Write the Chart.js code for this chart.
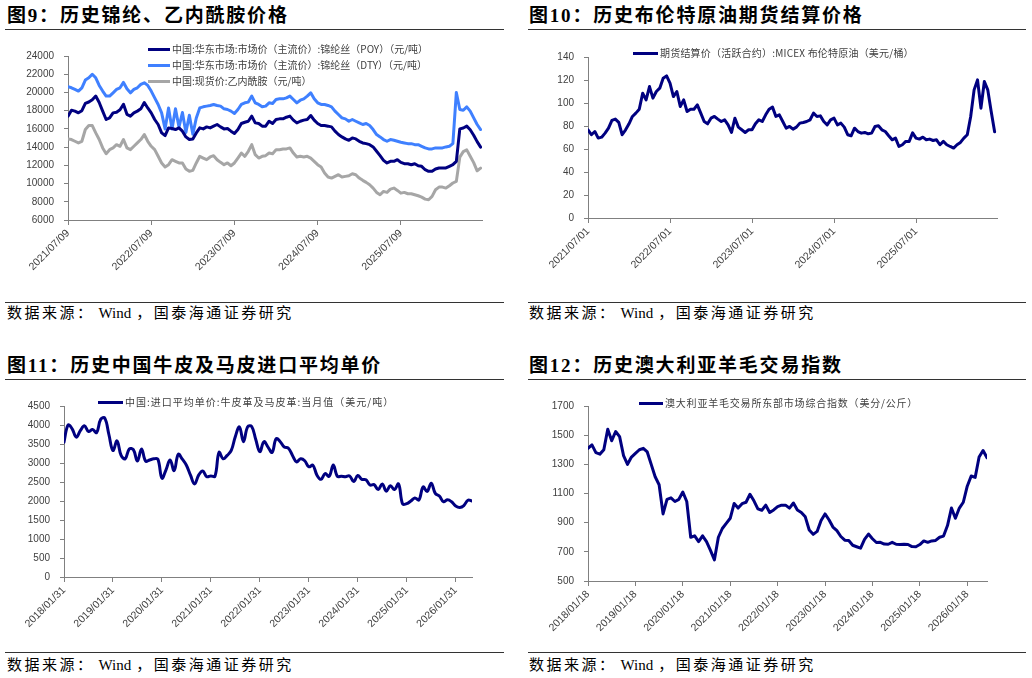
<!DOCTYPE html>
<html lang="zh-CN">
<head>
<meta charset="utf-8">
<script src="https://cdn.jsdelivr.net/npm/chart.js@4.4.1/dist/chart.umd.min.js"></script>
<style>
  body { margin: 0; width: 1032px; height: 678px; background: #fff; position: relative; overflow: hidden; }
  .title { position: absolute; font: bold 19px "Liberation Serif", "Noto Sans CJK SC", serif; letter-spacing: 1.8px; color: #000; line-height: 20px; white-space: nowrap; }
  .rule { position: absolute; height: 0; border-top: 1px solid #333; }
  .source { position: absolute; font: 15px "Liberation Serif", "Noto Sans CJK SC", serif; letter-spacing: 2.5px; color: #000; line-height: 16px; white-space: nowrap; }
  .source b { font-weight: normal; letter-spacing: 0; margin: 0 5px 0 4px; }
  .swatch { position: absolute; height: 3px; }
  .legend { position: absolute; font: 10px "Noto Sans CJK SC", sans-serif; color: #404040; line-height: 12px; white-space: nowrap; }
  canvas { position: absolute; }
</style>
</head>
<body>

<div class="title" style="left:7px;top:6px">图9：历史锦纶、乙内酰胺价格</div>
<div class="rule" style="left:5px;top:29px;width:499px"></div>
<div class="title" style="left:529px;top:6px">图10：历史布伦特原油期货结算价格</div>
<div class="rule" style="left:528px;top:29px;width:498px"></div>
<div class="title" style="left:7px;top:356px">图11：历史中国牛皮及马皮进口平均单价</div>
<div class="rule" style="left:5px;top:379px;width:499px"></div>
<div class="title" style="left:529px;top:356px">图12：历史澳大利亚羊毛交易指数</div>
<div class="rule" style="left:528px;top:379px;width:498px"></div>

<canvas id="nylon-chart" width="500" height="260" style="left:0;top:40px"></canvas>
<canvas id="brent-chart" width="500" height="260" style="left:520px;top:40px"></canvas>
<canvas id="hide-chart" width="500" height="260" style="left:0;top:390px"></canvas>
<canvas id="wool-chart" width="500" height="260" style="left:520px;top:390px"></canvas>

<div class="swatch" style="left:148px;top:48px;width:22px;background:#000080"></div>
<div class="legend" style="left:172px;top:43px">中国:华东市场:市场价（主流价）:锦纶丝（POY）（元/吨）</div>
<div class="swatch" style="left:148px;top:64px;width:22px;background:#3f80ff"></div>
<div class="legend" style="left:172px;top:59px">中国:华东市场:市场价（主流价）:锦纶丝（DTY）（元/吨）</div>
<div class="swatch" style="left:148px;top:80px;width:22px;background:#a6a6a6"></div>
<div class="legend" style="left:172px;top:75px">中国:现货价:乙内酰胺（元/吨）</div>

<div class="swatch" style="left:633px;top:52px;width:25px;background:#000080"></div>
<div class="legend" style="left:660px;top:47px;letter-spacing:0.2px">期货结算价（活跃合约）:MICEX 布伦特原油（美元/桶）</div>

<div class="swatch" style="left:98px;top:401px;width:25px;background:#000080"></div>
<div class="legend" style="left:125px;top:396px;letter-spacing:1px">中国:进口平均单价:牛皮革及马皮革:当月值（美元/吨）</div>

<div class="swatch" style="left:639px;top:402px;width:24px;background:#000080"></div>
<div class="legend" style="left:665px;top:397px;letter-spacing:0.8px">澳大利亚羊毛交易所东部市场综合指数（美分/公斤）</div>

<div class="rule" style="left:5px;top:302px;width:499px"></div>
<div class="source" style="left:7px;top:305px">数据来源：<b>Wind</b>，国泰海通证券研究</div>
<div class="rule" style="left:528px;top:302px;width:498px"></div>
<div class="source" style="left:529px;top:305px">数据来源：<b>Wind</b>，国泰海通证券研究</div>
<div class="rule" style="left:5px;top:652px;width:499px"></div>
<div class="source" style="left:7px;top:657px">数据来源：<b>Wind</b>，国泰海通证券研究</div>
<div class="rule" style="left:528px;top:652px;width:498px"></div>
<div class="source" style="left:529px;top:657px">数据来源：<b>Wind</b>，国泰海通证券研究</div>

<script>
// half-month points from 2021/07/09
const poyPrice = [
  17400, 18050, 17950, 17760, 18000, 18800, 18950, 19200, 19600, 18900,
  17950, 17030, 17200, 17760, 17830, 18100, 18700, 17600, 17400, 17760,
  17950, 18200, 18900, 18300, 17760, 17030, 16480, 15560, 15270, 16110,
  16040, 15930, 16110, 15750, 15120, 14830, 14900, 15560, 16110, 16000,
  16220, 16110, 16300, 16480, 16220, 16000, 16040, 15750, 15490, 15930,
  16590, 16730, 16840, 17400, 16660, 16590, 16300, 16300, 16840, 16590,
  17030, 17100, 17100, 17280, 17400, 16960, 16660, 16840, 16960, 17030,
  17470, 16960, 16590, 16370, 16370, 16300, 16220, 15750, 15380, 15120,
  14900, 14750, 15010, 14900, 14640, 14460, 14380, 14270, 14020, 13540,
  13060, 12550, 12260, 12440, 12440, 12620, 12330, 12180, 12180, 12070,
  12180, 11960, 11890, 11520, 11340, 11340, 11600, 11710, 11710, 11710,
  11890, 12070, 12440, 16000, 16100, 16300, 15900, 15300, 14600, 14000
];
const dtyPrice = [
  20620, 20510, 20330, 20150, 20510, 21360, 21610, 22000, 21610, 20770,
  20150, 19600, 19600, 19960, 20330, 20510, 21100, 20400, 19960, 20330,
  20510, 20880, 21060, 20770, 20150, 19410, 18680, 17760, 16000, 18300,
  16000, 18200, 16200, 17800, 15600, 17500, 15400, 17200, 18300, 18420,
  18500, 18570, 18680, 18570, 18500, 18200, 18130, 17950, 17690, 18130,
  18680, 18860, 18940, 19600, 18860, 18680, 18420, 18500, 18860, 18790,
  19230, 19300, 19300, 19410, 19600, 19230, 18860, 19150, 19300, 19600,
  19960, 19300, 18860, 18680, 18680, 18570, 18420, 17950, 17580, 17210,
  17100, 16840, 17030, 16840, 16660, 16480, 16590, 16370, 15930, 15380,
  15120, 14830, 14640, 14830, 14750, 14640, 14530, 14460, 14380, 14380,
  14270, 14270, 14090, 13910, 13800, 13800, 13910, 13910, 13910, 14020,
  14090, 14380, 20000, 18130, 18050, 18420, 17950, 17210, 16480, 15930
];
const caprolactamPrice = [
  14900, 14830, 14640, 14460, 14640, 15930, 16370, 16370, 15560, 14830,
  13910, 13280, 13720, 13910, 14270, 14090, 14830, 13910, 13720, 14090,
  14460, 14830, 15380, 14640, 14090, 13720, 12990, 12260, 11820, 12070,
  12620, 12440, 12260, 12260, 11600, 11340, 11450, 12260, 12990, 12800,
  12620, 12920, 13060, 12620, 12330, 12070, 12260, 11960, 12260, 12800,
  13350, 12990, 13540, 14270, 13170, 12800, 12990, 13060, 13350, 13280,
  13720, 13720, 13800, 13800, 13910, 13350, 12920, 12990, 12920, 12990,
  12800, 12440, 12070, 11820, 11160, 10720, 10600, 10790, 10970, 10720,
  10790, 10860, 11080, 10970, 10600, 10350, 10130, 9870, 9500, 9030,
  8770, 9140, 9030, 9390, 9500, 9250, 8950, 9030, 8880, 8880,
  8770, 8660, 8510, 8290, 8220, 8590, 9320, 9610, 9610, 9500,
  9760, 10060, 10240, 12900, 13500, 13700, 13000, 12300, 11400, 11700
];
const nylonXLabels = ['2021/07/09', '2022/07/09', '2023/07/09', '2024/07/09', '2025/07/09'];
const nylonYTicks = [6000, 8000, 10000, 12000, 14000, 16000, 18000, 20000, 22000, 24000];

// half-month points from 2021/07/01
const brentPrice = [
  76.7, 72.4, 75.2, 69.5, 70.3, 73.8, 78.1, 84.8, 86.0, 83.1,
  72.4, 76.7, 81.9, 88.3, 91.2, 94.6, 108.5, 102.7, 114.3, 104.2,
  110.0, 112.9, 121.5, 123.6, 117.2, 105.6, 110.0, 97.0, 102.7, 92.6,
  94.6, 94.6, 98.4, 91.2, 83.9, 81.9, 86.8, 88.3, 86.0, 83.9,
  85.4, 81.0, 74.4, 86.8, 79.0, 76.7, 74.4, 76.7, 76.7, 81.9,
  85.4, 83.9, 89.7, 94.6, 96.4, 88.3, 89.7, 83.9, 78.1, 79.6,
  77.3, 79.0, 82.5, 83.1, 83.9, 85.4, 91.2, 88.3, 88.8, 83.9,
  81.0, 85.4, 86.8, 81.0, 82.5, 79.0, 72.4, 71.5, 78.1, 75.2,
  73.8, 74.4, 73.2, 73.8, 79.6, 80.2, 76.7, 75.2, 71.5, 68.0,
  69.5, 62.2, 63.7, 66.6, 66.6, 74.0, 69.5, 68.6, 70.3, 68.0,
  68.6, 67.4, 68.0, 63.7, 66.6, 63.7, 62.2, 60.8, 63.7, 65.7,
  69.5, 72.4, 88.3, 111.4, 120.1, 95.5, 118.7, 111.4, 92.6, 75.0
];
const brentXLabels = ['2021/07/01', '2022/07/01', '2023/07/01', '2024/07/01', '2025/07/01'];
const brentYTicks = [0, 20, 40, 60, 80, 100, 120, 140];

// monthly from 2018/01
const hidePrice = [
  3550, 4000, 3900, 3680, 3850, 3980, 3830, 3880, 3800, 4150,
  4180, 3750, 3330, 3580, 3200, 3110, 3370, 3350, 3050, 3370,
  3050, 3080, 3110, 3100, 2600, 2820, 3080, 2800, 3230, 3100,
  2940, 2680, 2450, 2680, 2790, 2640, 2660, 2650, 3280, 3110,
  3200, 3330, 3700, 3950, 3560, 3950, 3960, 3620, 3300, 3560,
  3420, 3280, 3640, 3560, 3420, 3390, 3200, 3030, 3110, 3060,
  2900, 2940, 2680, 2570, 2720, 2650, 2950, 2650, 2650, 2640,
  2660, 2510, 2670, 2570, 2560, 2420, 2430, 2300, 2450, 2260,
  2400, 2300, 2450, 1920, 1930, 2000, 2080, 2030, 2370, 2250,
  2470, 2200, 2130, 1980, 2030, 1980, 1870, 1830, 1880, 2020,
  2000
];
const hideXLabels = ['2018/01/31', '2019/01/31', '2020/01/31', '2021/01/31', '2022/01/31',
  '2023/01/31', '2024/01/31', '2025/01/31', '2026/01/31'];
const hideYTicks = [0, 500, 1000, 1500, 2000, 2500, 3000, 3500, 4000, 4500];

// monthly from 2018/01
const woolIndex = [
  1410, 1433, 1380, 1370, 1400, 1540, 1462, 1525, 1490, 1360,
  1300, 1350, 1375, 1400, 1410, 1385, 1300, 1215, 1160, 960,
  1060, 1070, 1045, 1060, 1110, 1045, 800, 810, 770, 810,
  770, 710, 645, 800, 860, 895, 930, 1032, 1000, 1030,
  1040, 1095, 1050, 995, 985, 1020, 970, 987, 1010, 1020,
  1020, 1000, 1035, 987, 970, 940, 850, 820, 840, 915,
  960, 920, 870, 845, 805, 780, 778, 745, 735, 725,
  785, 822, 790, 764, 765, 753, 752, 765, 752, 750,
  752, 750, 736, 735, 750, 775, 765, 775, 778, 800,
  808, 880, 1000, 930, 1000, 1040, 1150, 1220, 1210, 1350,
  1395, 1345
];
const woolXLabels = ['2018/01/18', '2019/01/18', '2020/01/18', '2021/01/18', '2022/01/18',
  '2023/01/18', '2024/01/18', '2025/01/18', '2026/01/18'];
const woolYTicks = [500, 700, 900, 1100, 1300, 1500, 1700];

const axisColor = '#808080';
const yFont = { family: 'Liberation Sans', size: 10 };
const xFont = { family: 'Liberation Sans', size: 10.5 };

function makeChart(id, series, opt) {
  return new Chart(document.getElementById(id), {
    type: 'line',
    data: {
      datasets: series.map(s => ({
        data: s.values.map((v, i) => ({ x: i * opt.step, y: v })),
        borderColor: s.color,
        borderWidth: 3,
        pointRadius: 0,
        tension: opt.tension || 0,
        borderJoinStyle: 'round',
        borderCapStyle: 'round'
      }))
    },
    options: {
      responsive: false,
      animation: false,
      devicePixelRatio: 1,
      layout: { padding: opt.pad },
      plugins: { legend: { display: false }, tooltip: { enabled: false } },
      scales: {
        x: {
          type: 'linear',
          min: 0,
          max: opt.xMax,
          afterBuildTicks: s => { s.ticks = opt.xLabels.map((l, i) => ({ value: i * 12 })); },
          afterFit: s => { s.height = opt.xHeight; },
          ticks: {
            autoSkip: false, maxRotation: 45, minRotation: 45, padding: 2,
            color: '#404040', font: xFont,
            callback: v => opt.xLabels[Math.round(v / 12)]
          },
          grid: { drawOnChartArea: false, drawTicks: true, tickLength: 5, color: axisColor },
          border: { color: axisColor }
        },
        y: {
          min: opt.yTicks[0],
          max: opt.yTicks[opt.yTicks.length - 1],
          afterBuildTicks: s => { s.ticks = opt.yTicks.map(v => ({ value: v })); },
          afterFit: s => { s.width = opt.yWidth; },
          ticks: { padding: 10, color: '#404040', font: yFont, callback: v => String(v) },
          grid: { drawOnChartArea: false, drawTicks: true, tickLength: 4, color: axisColor },
          border: { color: axisColor }
        }
      }
    }
  });
}

makeChart('nylon-chart', [
  { values: poyPrice, color: '#000080' },
  { values: dtyPrice, color: '#3f80ff' },
  { values: caprolactamPrice, color: '#a6a6a6' }
], {
  step: 0.5, xMax: 59.7, xLabels: nylonXLabels, yTicks: nylonYTicks,
  yWidth: 68, xHeight: 80, pad: { top: 16, right: 18, bottom: 0, left: 0 }
});

makeChart('brent-chart', [
  { values: brentPrice, color: '#000080' }
], {
  step: 0.5, xMax: 59.85, xLabels: brentXLabels, yTicks: brentYTicks,
  yWidth: 68, xHeight: 82, pad: { top: 17, right: 23, bottom: 0, left: 0 }
});

makeChart('hide-chart', [
  { values: hidePrice, color: '#000080' }
], {
  step: 1, xMax: 100, tension: 0.4, xLabels: hideXLabels, yTicks: hideYTicks,
  yWidth: 64, xHeight: 73, pad: { top: 12, right: 28, bottom: 0, left: 0 }
});

makeChart('wool-chart', [
  { values: woolIndex, color: '#000080' }
], {
  step: 1, xMax: 101, xLabels: woolXLabels, yTicks: woolYTicks,
  yWidth: 68, xHeight: 69, pad: { top: 13, right: 33, bottom: 0, left: 0 }
});
</script>
</body>
</html>
